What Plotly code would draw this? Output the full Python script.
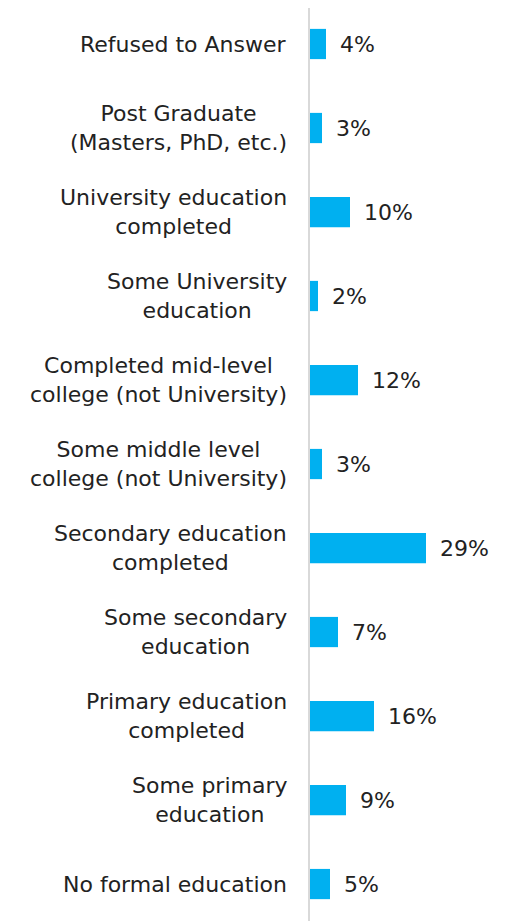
import plotly.graph_objects as go

categories = [
    "Refused to Answer",
    "Post Graduate<br>(Masters, PhD, etc.)",
    "University education<br>completed",
    "Some University<br>education",
    "Completed mid-level<br>college (not University)",
    "Some middle level<br>college (not University)",
    "Secondary education<br>completed",
    "Some secondary<br>education",
    "Primary education<br>completed",
    "Some primary<br>education",
    "No formal education",
]
values = [4, 3, 10, 2, 12, 3, 29, 7, 16, 9, 5]
value_labels = [f"{v}%" for v in values]

FONT = "DejaVu Sans"
TEXT_COLOR = "#222222"
BAR_COLOR = "#00B0F0"

idx = list(range(len(categories)))

fig = go.Figure()
fig.add_trace(go.Bar(
    x=values, y=idx, orientation="h",
    marker=dict(color=BAR_COLOR, line=dict(width=0)),
    width=0.36, hoverinfo="skip",
))

annotations = []
for i, (cat, v, lab) in enumerate(zip(categories, values, value_labels)):
    annotations.append(dict(
        x=0, xref="paper", y=i, yref="y", text=cat, showarrow=False,
        xanchor="right", yanchor="middle", align="center", xshift=-21,
        font=dict(family=FONT, size=22, color=TEXT_COLOR),
    ))
    annotations.append(dict(
        x=v, xref="x", y=i, yref="y", text=lab, showarrow=False,
        xanchor="left", yanchor="middle", xshift=12,
        font=dict(family=FONT, size=22, color=TEXT_COLOR),
    ))

fig.update_layout(
    width=510, height=913,
    margin=dict(l=302, r=0, t=0, b=0),
    paper_bgcolor="white", plot_bgcolor="white",
    showlegend=False,
    annotations=annotations,
    xaxis=dict(range=[0, 52], visible=False, fixedrange=True),
    yaxis=dict(range=[10.44, -0.4286], showticklabels=False, ticks="",
               showgrid=False, zeroline=False,
               showline=True, linecolor="#D9D9D9", linewidth=2),
)

fig.write_html("out.html")
